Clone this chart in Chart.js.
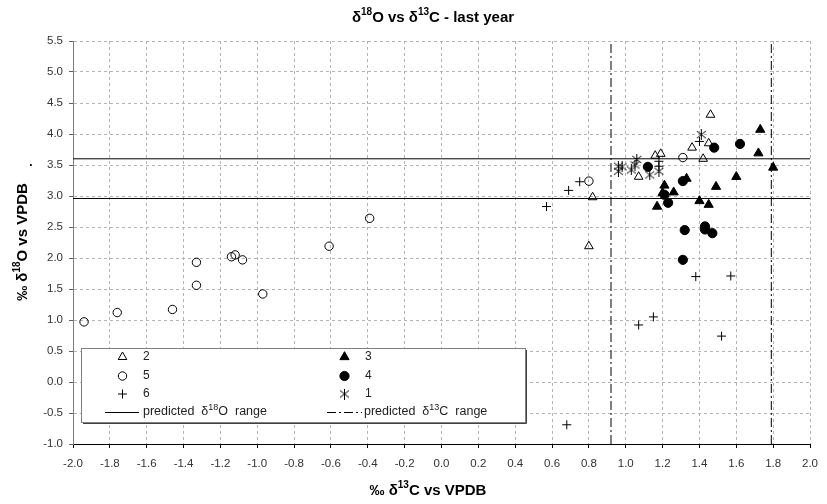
<!DOCTYPE html>
<html>
<head>
<meta charset="utf-8">
<script src="https://cdn.jsdelivr.net/npm/chart.js@4.4.0/dist/chart.umd.min.js"></script>
<style>
  html, body { margin: 0; padding: 0; background: #fff; }
  canvas { display: block; }
</style>
</head>
<body>
<canvas id="chart" width="827" height="504"></canvas>
<script>
// tick values of the two axes
const xTicks = [-2.0, -1.8, -1.6, -1.4, -1.2, -1.0, -0.8, -0.6, -0.4, -0.2, 0.0, 0.2, 0.4, 0.6, 0.8, 1.0, 1.2, 1.4, 1.6, 1.8, 2.0];
const yTicks = [-1.0, -0.5, 0.0, 0.5, 1.0, 1.5, 2.0, 2.5, 3.0, 3.5, 4.0, 4.5, 5.0, 5.5];

// predicted ranges (reference lines)
const predictedO = [2.96, 3.60];
const predictedC = [0.92, 1.79];

// series values, d13C (x) and d18O (y)
const s2X = [0.82, 0.80, 1.07, 1.16, 1.19, 1.36, 1.42, 1.45, 1.46];
const s2Y = [2.98, 2.19, 3.31, 3.65, 3.68, 3.78, 3.60, 3.85, 4.31];

const s5X = [-1.94, -1.76, -1.46, -1.33, -1.33, -1.14, -1.12, -1.08, -0.97, -0.61, -0.39, 0.80, 1.31];
const s5Y = [0.97, 1.12, 1.17, 1.93, 1.56, 2.02, 2.05, 1.97, 1.42, 2.19, 2.64, 3.24, 3.62];

const s6X = [0.57, 0.69, 0.75, 1.18, 1.18, 1.40, 1.38, 1.57, 1.15, 1.07, 1.52, 0.68];
const s6Y = [2.83, 3.09, 3.23, 3.56, 3.48, 3.88, 1.70, 1.71, 1.05, 0.92, 0.74, -0.69];

const s3X = [1.73, 1.72, 1.80, 1.60, 1.49, 1.33, 1.26, 1.21, 1.20, 1.17, 1.40, 1.45];
const s3Y = [4.07, 3.69, 3.46, 3.31, 3.15, 3.28, 3.06, 3.17, 3.05, 2.83, 2.92, 2.86];

const s4X = [1.48, 1.62, 1.12, 1.31, 1.21, 1.23, 1.32, 1.43, 1.43, 1.47, 1.31];
const s4Y = [3.78, 3.84, 3.47, 3.24, 3.02, 2.89, 2.45, 2.51, 2.46, 2.40, 1.97];

const s1X = [0.96, 0.96, 0.98, 1.03, 1.06, 1.05, 1.13, 1.18, 1.41];
const s1Y = [3.48, 3.40, 3.47, 3.42, 3.59, 3.50, 3.34, 3.40, 3.99];

const FONT = '"Liberation Sans", Arial, sans-serif';

function pts(xs, ys) {
  return xs.map((x, i) => ({ x: x, y: ys[i] }));
}

// Excel style asterisk marker
function asterisk() {
  const c = document.createElement('canvas');
  c.width = 11; c.height = 11;
  const g = c.getContext('2d');
  g.strokeStyle = '#000';
  g.lineWidth = 1;
  g.beginPath();
  g.moveTo(5.5, 0); g.lineTo(5.5, 11);
  g.moveTo(1, 2); g.lineTo(10, 9);
  g.moveTo(10, 2); g.lineTo(1, 9);
  g.stroke();
  return c;
}
const starImg = asterisk();

const markers = {
  s2: { pointStyle: 'triangle', radius: 5, fill: 'rgba(0,0,0,0)' },
  s5: { pointStyle: 'circle', radius: 4.2, fill: 'rgba(0,0,0,0)' },
  s6: { pointStyle: 'cross', radius: 4.5, fill: 'rgba(0,0,0,0)' },
  s3: { pointStyle: 'triangle', radius: 5.3, fill: '#000' },
  s4: { pointStyle: 'circle', radius: 4.6, fill: '#000' },
  s1: { pointStyle: starImg, radius: 5, fill: '#000' }
};

function scatterSet(label, data, m) {
  return {
    label: label,
    data: data,
    pointStyle: m.pointStyle,
    pointRadius: m.radius,
    pointBackgroundColor: m.fill,
    pointBorderColor: '#000',
    pointBorderWidth: 1,
    order: 1
  };
}

function refLine(data, dash) {
  return {
    data: data,
    showLine: true,
    pointRadius: 0,
    borderColor: '#000',
    borderWidth: 1,
    borderDash: dash,
    order: 10
  };
}

// text with superscripts: parts = [[text, isSup], ...]
function richText(ctx, parts, x, y, size, bold, align) {
  const supSize = Math.round(size * 0.68);
  const f = s => (bold ? 'bold ' : '') + s + 'px ' + FONT;
  let w = 0;
  parts.forEach(p => { ctx.font = f(p[1] ? supSize : size); w += ctx.measureText(p[0]).width; });
  let cx = align === 'center' ? x - w / 2 : x;
  ctx.textAlign = 'left';
  ctx.textBaseline = 'middle';
  parts.forEach(p => {
    ctx.font = f(p[1] ? supSize : size);
    ctx.fillText(p[0], cx, p[1] ? y - size * 0.36 : y);
    cx += ctx.measureText(p[0]).width;
  });
}

const decor = {
  id: 'decor',
  afterDraw(chart) {
    const ctx = chart.ctx;
    ctx.save();
    ctx.fillStyle = '#000';
    richText(ctx, [['δ', 0], ['18', 1], ['O vs δ', 0], ['13', 1], ['C - last year', 0]], 433, 18, 15, true, 'center');
    richText(ctx, [['‰ δ', 0], ['13', 1], ['C vs VPDB', 0]], 428, 491, 15, true, 'center');
    ctx.save();
    ctx.translate(23, 242);
    ctx.rotate(-Math.PI / 2);
    richText(ctx, [['‰ δ', 0], ['18', 1], ['O vs VPDB', 0]], 0, 0, 15, true, 'center');
    ctx.restore();
    ctx.font = 'bold 12px ' + FONT;
    ctx.textAlign = 'center';
    ctx.fillText('.', 31, 163);

    // legend box
    const bx = 81, by = 348, bw = 444, bh = 74;
    ctx.fillStyle = '#fff';
    ctx.fillRect(bx, by, bw, bh);
    ctx.strokeStyle = '#808080';
    ctx.lineWidth = 1;
    ctx.strokeRect(bx + 0.5, by + 0.5, bw, bh);
    ctx.strokeStyle = '#404040';
    ctx.beginPath();
    ctx.moveTo(bx + bw + 1.5, by + 2); ctx.lineTo(bx + bw + 1.5, by + bh + 1.5); ctx.lineTo(bx + 2, by + bh + 1.5);
    ctx.stroke();

    const rows = [357, 376, 394, 412];
    const items = [
      ['2', markers.s2, 122, rows[0]], ['5', markers.s5, 122, rows[1]], ['6', markers.s6, 122, rows[2]],
      ['3', markers.s3, 344, rows[0]], ['4', markers.s4, 344, rows[1]], ['1', markers.s1, 344, rows[2]]
    ];
    items.forEach(it => {
      const m = it[1];
      ctx.fillStyle = m.fill;
      ctx.strokeStyle = '#000';
      ctx.lineWidth = 1;
      Chart.helpers.drawPoint(ctx, { pointStyle: m.pointStyle, radius: m.radius, borderWidth: 1, rotation: 0 }, Math.round(it[2]) + 0.5, it[3]);
      ctx.fillStyle = '#222';
      ctx.font = '12px ' + FONT;
      ctx.textAlign = 'left';
      ctx.textBaseline = 'middle';
      ctx.fillText(it[0], it[2] + 21, it[3]);
    });
    ctx.strokeStyle = '#000';
    ctx.lineWidth = 1;
    ctx.beginPath();
    ctx.moveTo(105, rows[3] + 0.5); ctx.lineTo(139, rows[3] + 0.5);
    ctx.stroke();
    ctx.setLineDash([9, 3, 2, 3]);
    ctx.beginPath();
    ctx.moveTo(327, rows[3] + 0.5); ctx.lineTo(362, rows[3] + 0.5);
    ctx.stroke();
    ctx.setLineDash([]);
    ctx.fillStyle = '#222';
    richText(ctx, [['predicted  δ', 0], ['18', 1], ['O  range', 0]], 143, rows[3], 12.5, false, 'left');
    richText(ctx, [['predicted  δ', 0], ['13', 1], ['C  range', 0]], 364, rows[3], 12.5, false, 'left');
    ctx.restore();
  }
};

new Chart(document.getElementById('chart'), {
  type: 'scatter',
  data: {
    datasets: [
      scatterSet('2', pts(s2X, s2Y), markers.s2),
      scatterSet('5', pts(s5X, s5Y), markers.s5),
      scatterSet('6', pts(s6X, s6Y), markers.s6),
      scatterSet('3', pts(s3X, s3Y), markers.s3),
      scatterSet('4', pts(s4X, s4Y), markers.s4),
      scatterSet('1', pts(s1X, s1Y), markers.s1),
      refLine([{ x: xTicks[0], y: predictedO[0] }, { x: xTicks[xTicks.length - 1], y: predictedO[0] }], []),
      refLine([{ x: xTicks[0], y: predictedO[1] }, { x: xTicks[xTicks.length - 1], y: predictedO[1] }], []),
      refLine([{ x: predictedC[0], y: yTicks[0] }, { x: predictedC[0], y: yTicks[yTicks.length - 1] }], [9, 3, 2, 3]),
      refLine([{ x: predictedC[1], y: yTicks[0] }, { x: predictedC[1], y: yTicks[yTicks.length - 1] }], [9, 3, 2, 3])
    ]
  },
  options: {
    responsive: false,
    animation: false,
    events: [],
    layout: { padding: { left: 0, right: 9, top: 41, bottom: 0 } },
    plugins: { legend: { display: false }, tooltip: { enabled: false }, title: { display: false } },
    scales: {
      x: {
        type: 'linear',
        min: xTicks[0],
        max: xTicks[xTicks.length - 1],
        afterBuildTicks: s => { s.ticks = xTicks.map(v => ({ value: v })); },
        afterFit: s => { s.height = 60; },
        grid: { color: '#b4b4b4', tickColor: '#000', tickLength: 4 },
        border: { color: '#000', width: 1, dash: [3, 3] },
        ticks: {
          padding: 9,
          maxRotation: 0,
          autoSkip: false,
          color: '#333',
          font: { family: FONT, size: 11.5 },
          callback: v => Math.abs(v) < 1e-9 ? '0.0' : Number(v).toFixed(1)
        }
      },
      y: {
        type: 'linear',
        min: yTicks[0],
        max: yTicks[yTicks.length - 1],
        afterBuildTicks: s => { s.ticks = yTicks.map(v => ({ value: v })); },
        afterFit: s => { s.width = 73; },
        grid: { color: '#b4b4b4', tickColor: '#606060', tickLength: 4 },
        border: { color: '#808080', width: 1, dash: [3, 3] },
        ticks: {
          padding: 6,
          autoSkip: false,
          color: '#333',
          font: { family: FONT, size: 11.5 },
          callback: v => Math.abs(v) < 1e-9 ? '0.0' : Number(v).toFixed(1)
        }
      }
    }
  },
  plugins: [decor]
});
</script>
</body>
</html>
